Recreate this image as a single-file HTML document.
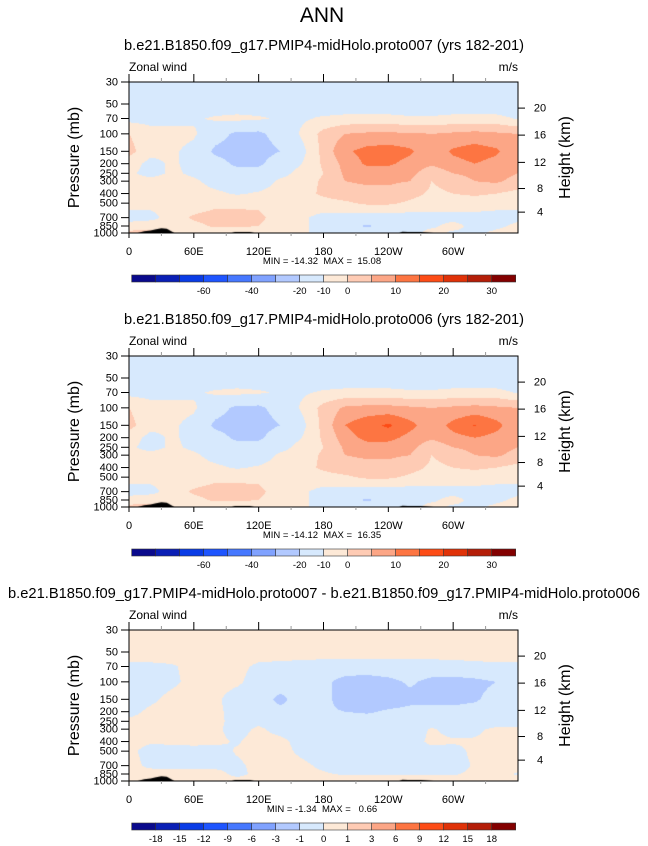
<!DOCTYPE html>
<html><head><meta charset="utf-8">
<style>
html,body{margin:0;padding:0;background:#fff;}
#wrap{position:relative;width:648px;height:846px;overflow:hidden;font-family:"Liberation Sans",Arial,sans-serif;}
canvas{position:absolute;}
svg{position:absolute;left:0;top:0;}
</style></head>
<body>
<div id="wrap">
<canvas id="c1" width="389" height="151" style="left:129px;top:82px"></canvas>
<canvas id="c2" width="389" height="151" style="left:129px;top:356px"></canvas>
<canvas id="c3" width="389" height="151" style="left:129px;top:630px"></canvas>
<svg id="ov" width="648" height="846"></svg>
</div>
<script>
// ---------- data ----------
const lons = [0,20,40,60,80,100,120,140,160,180,200,220,240,260,280,300,320,340,360];
const levels = [30,50,70,100,150,200,250,300,400,500,700,850,1000];
const field1 = [
[-3,-3,-3,-3,-3,-3,-3,-3,-3,-3,-3,-3,-3,-3,-3,-3,-3,-3,-3],
[-2.5,-2.5,-2.5,-2.5,-2.5,-2.5,-2.5,-2.5,-0.5,-2.5,-2.5,-2.5,-2.5,-2.5,-2.5,-2.5,-2.5,-2.5,-2.5],
[-1,-1,-1,-0.5,0.5,1,0.5,-0.5,-0.5,0.5,1,1,1,0.5,0.5,1,1,1,-0.3],
[3,1,1,0.5,-3,-6,-6,-3,0.5,4,6,6.5,6.5,6.5,6,6.5,7,6.5,6],
[4,1,0.5,-1,-6,-7,-7,-5,-1,4,8.5,10,10.5,9.5,7,9.5,10.5,9.5,6.5],
[1.5,-1,0.5,-1,-3,-6,-6,-2,0,3.5,7,9.5,9.5,8,6.5,8,9,8,6.5],
[0.5,-1,0.5,-0.5,-2,-3,-3,-1,1,3,6.5,7.5,7.5,7,4,6,7,7,6],
[1,1,1,0.5,-1,-1.5,-1.5,0.5,1.5,3.5,6,6.5,6.5,6,3,4,6,6.5,5],
[1,1,1,1,0.5,-0.3,0.3,1,2,3.5,4.5,5,5,4,2.5,3,3.5,3,2],
[1,1,1,1,2,2,2,1,1.5,2,2.5,3.5,3.5,2.5,1.5,1.5,1.5,1,0.5],
[-1,-1,1.5,3.5,4.5,4.5,4,1,0.5,-1,-1,-1.5,-1.5,-1.5,-1,-1,-1,-1,-0.5],
[1,2,1,2,3.5,3.5,3,1,0.5,-1,-4,-5.5,-4,-1,-0.5,1,-1,-0.5,0.5],
[4,4,0.5,1,1,1,0.5,0.5,0.5,-1,-2,-2,-2,-1,1,-0.5,-0.5,0.5,1]];
const field2 = [
[-3,-3,-3,-3,-3,-3,-3,-3,-3,-3,-3,-3,-3,-3,-3,-3,-3,-3,-3],
[-2.5,-2.5,-2.5,-2.5,-2.5,-2.5,-2.5,-2.5,-2.5,-2.5,-2.5,-2.5,-2.5,-2.5,-2.5,-2.5,-2.5,-2.5,-2.5],
[-1,-1,-1,-0.5,0.5,1,0.5,-0.5,-0.5,0.5,1,1,1,0.5,0.5,1,1,1,-0.3],
[3,1,1,0.5,-3,-6,-6,-3,0.5,4,6.5,7,7,6.5,6,6.5,7,6.5,6],
[4,1,0.5,-1,-6,-7,-7,-5,-1,4,9,11,12.5,10,7,10,12.2,10,6.5],
[1.5,-1,0.5,-1,-3,-6,-6,-2,0,3.5,7.5,10,10,8,6.5,8,9,8,6.5],
[0.5,-1,0.5,-0.5,-2,-3,-3,-1,1,3,6.5,7.5,7.5,7,4,6,7,7,6],
[1,1,1,0.5,-1,-1.5,-1.5,0.5,1.5,3.5,6,6.5,6.5,6,3,4,6,6.5,5],
[1,1,1,1,0.5,-0.3,0.3,1,2,3.5,4.5,5,5,4,2.5,3,3.5,3,2],
[1,1,1,1,2,2,2,1,1.5,2,2.5,3.5,3.5,2.5,1.5,1.5,1.5,1,0.5],
[-1,-1,1.5,3.5,4.5,4.5,4,1,0.5,-1,-1,-1.5,-1.5,-1.5,-1,-1,-1,-1,-0.5],
[1,2,1,2,3.5,3.5,3,1,0.5,-1,-4,-5.5,-4,-1,-0.5,1,-1,-0.5,0.5],
[4,4,0.5,1,1,1,0.5,0.5,0.5,-1,-2,-2,-2,-1,1,-0.5,-0.5,0.5,1]];
const field3 = [
[0.5,0.5,0.5,0.5,0.5,0.5,0.5,0.5,0.5,0.5,0.5,0.5,0.5,0.5,0.5,0.5,0.5,0.5,0.5],
[0.5,0.5,0.5,0.5,0.5,0.5,0.5,0.5,0.5,0.5,0.5,0.5,0.5,0.5,0.5,0.5,0.5,0.5,0.5],
[-0.2,-0.2,-0.1,0.3,0.3,0.3,-0.2,-0.3,-0.4,-0.5,-0.5,-0.5,-0.5,-0.5,-0.5,-0.4,-0.3,-0.2,-0.2],
[-0.5,-0.5,-0.2,0.3,0.4,0.2,-0.5,-0.6,-0.7,-0.8,-1.3,-1.4,-1.2,-0.9,-1.2,-1.3,-1.2,-1.0,-0.6],
[-0.5,-0.2,0.3,0.5,0.2,-0.5,-0.6,-1.2,-0.6,-0.8,-1.3,-1.4,-1.4,-1.2,-1.2,-1.2,-1.1,-0.7,-0.6],
[-0.3,0.2,0.4,0.5,0.3,-0.5,-0.6,-0.8,-0.8,-0.9,-1.0,-1.1,-0.9,-0.8,-0.8,-0.8,-0.7,-0.6,-0.5],
[0.2,0.3,0.4,0.5,0.3,-0.4,-0.3,-0.6,-0.6,-0.6,-0.6,-0.6,-0.6,-0.6,-0.6,-0.6,-0.6,-0.6,-0.5],
[0.3,0.3,0.4,0.5,0.2,-0.4,0.2,-0.4,-0.6,-0.6,-0.6,-0.6,-0.5,-0.5,0.1,-0.3,-0.2,0.2,0.2],
[0.3,0.1,0.2,0.3,0.2,-0.1,0.4,0.3,-0.4,-0.6,-0.6,-0.6,-0.5,-0.4,0.2,0.1,0.1,0.3,0.3],
[0.2,-0.3,-0.4,-0.4,-0.4,0.1,0.4,0.3,-0.2,-0.5,-0.5,-0.5,-0.5,-0.5,-0.3,-0.3,0.2,0.3,0.4],
[0.3,-0.2,-0.3,-0.3,-0.3,-0.2,0.3,0.4,0.2,-0.2,-0.4,-0.4,-0.4,-0.4,-0.4,-0.4,0.1,0.3,0.4],
[0.2,0.4,0.4,0.4,0.4,-0.3,0.3,0.3,0.3,0.1,-0.1,-0.1,-0.1,-0.1,-0.1,-0.1,0.2,0.3,-0.1],
[0.4,0.4,0.4,0.4,0.4,0.4,0.4,0.4,0.4,0.4,0.4,0.4,0.4,0.4,0.4,0.4,0.4,0.4,0.4]];
const bounds12 = [-60,-50,-40,-30,-20,-10,-5,0,3,6,9,12,20,25,30];
const bounds3 = [-18,-15,-12,-9,-6,-3,-1,0,1,3,6,9,12,15,18];
const cbLabels12 = ["","","-60","","-40","","-20","-10","0","","10","","20","","30"];
const cbLabels3 = ["-18","-15","-12","-9","-6","-3","-1","0","1","3","6","9","12","15","18"];
const colors = ["#0a0a8c","#0a1fb5","#0a3ce6","#1e55ff","#4678ff","#80a2ff","#b2c9ff","#d7e9fd","#fde9d7","#fecbb4","#fca686","#fd7542","#fd4c16","#e03208","#b41e08","#830000"];
const terrainLons = [8,14,20,25,30,35,42,95,98,112,116,250,253,258,270,282];
const terrainP = [1000,960,945,915,895,905,1000,1000,975,975,1000,1000,970,975,975,1000];
const minmax = ["MIN = -14.32  MAX =  15.08","MIN = -14.12  MAX =  16.35","MIN = -1.34  MAX =   0.66"];
const titles = ["b.e21.B1850.f09_g17.PMIP4-midHolo.proto007 (yrs 182-201)","b.e21.B1850.f09_g17.PMIP4-midHolo.proto006 (yrs 182-201)","b.e21.B1850.f09_g17.PMIP4-midHolo.proto007 - b.e21.B1850.f09_g17.PMIP4-midHolo.proto006"];
const pTicks = [30,50,70,100,150,200,250,300,400,500,700,850,1000];
const hTicks = [4,8,12,16,20];
const hTickP = [616,356,194,103,55];
const lonTicks = [0,60,120,180,240,300];
const lonLabels = ["0","60E","120E","180","120W","60W"];

// ---------- axes ----------
const W=389,H=151,L=129;
const tops=[82,356,630];
function xOf(lon){return lon/360*W;}
function yOf(p){return Math.log(p/30)/Math.log(1000/30)*H;}
function classOf(v,b){let k=0;while(k<b.length&&v>=b[k])k++;return k;}
function sample(f,lon,p){
  let fi=lon/20, i=Math.min(Math.floor(fi),lons.length-2), tx=fi-i;
  let lp=Math.log(p), j=0;
  while(j<levels.length-2&&Math.log(levels[j+1])<lp)j++;
  let ty=(lp-Math.log(levels[j]))/(Math.log(levels[j+1])-Math.log(levels[j]));
  ty=Math.max(0,Math.min(1,ty));
  let a=f[j][i]*(1-tx)+f[j][i+1]*tx, b=f[j+1][i]*(1-tx)+f[j+1][i+1]*tx;
  return a*(1-ty)+b*ty;
}
function terrain(ctx,a,b){
  ctx.beginPath();ctx.moveTo(xOf(terrainLons[a]),H);
  for(let k=a;k<=b;k++)ctx.lineTo(xOf(terrainLons[k]),yOf(terrainP[k]));
  ctx.lineTo(xOf(terrainLons[b]),H);ctx.closePath();ctx.fill();
}
function draw(id,f,b){
  const ctx=document.getElementById(id).getContext('2d');
  for(let py=0;py<H;py++){
    const p=30*Math.pow(1000/30,(py+0.5)/H);
    for(let px=0;px<W;px++){
      const lon=(px+0.5)/W*360;
      ctx.fillStyle=colors[classOf(sample(f,lon,p),b)];
      ctx.fillRect(px,py,1,1);
    }
  }
  ctx.fillStyle="#000";
  terrain(ctx,0,6);terrain(ctx,7,10);terrain(ctx,11,15);
}
draw('c1',field1,bounds12);draw('c2',field2,bounds12);draw('c3',field3,bounds3);

const NS="http://www.w3.org/2000/svg";
const ov=document.getElementById('ov');
function el(tag,attrs,parent,text){const e=document.createElementNS(NS,tag);for(const k in attrs)e.setAttribute(k,attrs[k]);if(text!==undefined)e.textContent=text;(parent||ov).appendChild(e);return e;}
let t=el('text',{x:322,y:22,'font-size':21,'text-anchor':'middle'},ov,"ANN");


for(let n=0;n<3;n++){
  const T=tops[n];
  const g=el('g',{},ov);
  
  
  let st=el('text',{x:324,y:T-32,'font-size':14.6,'text-anchor':'middle'},g,titles[n]);
  if(n===2){st.setAttribute('textLength',632);st.setAttribute('lengthAdjust','spacingAndGlyphs');}
  else{st.setAttribute('textLength',400);st.setAttribute('lengthAdjust','spacingAndGlyphs');}
  
  
  let zw=el('text',{x:L,y:T-11,'font-size':12},g,"Zonal wind");
  
  
  let un=el('text',{x:L+W,y:T-11,'font-size':12,'text-anchor':'end'},g,"m/s");
  
  
  let fr=el('rect',{x:L,y:T,width:W,height:H,fill:'none',stroke:'#000','stroke-width':1},g);
  
  
  for(let lon=0;lon<360;lon+=30){
    const x=L+xOf(lon), major=lon%60===0;
    el('line',{x1:x,x2:x,y1:T,y2:T-(major?8:4),stroke:major?'#000':'#999','stroke-width':1},g);
    el('line',{x1:x,x2:x,y1:T+H,y2:T+H+(major?5:3),stroke:major?'#000':'#999','stroke-width':1},g);
  }
  lonTicks.forEach((lon,k)=>{
    let tl=el('text',{x:L+xOf(lon),y:T+H+22,'font-size':11,'text-anchor':'middle'},g,lonLabels[k]);
    
    
  });
  pTicks.forEach(p=>{
    const y=T+yOf(p);
    el('line',{x1:L-8,x2:L,y1:y,y2:y,stroke:'#000'},g);
    let pl=el('text',{x:L-11,y:y+3.5,'font-size':11,'text-anchor':'end'},g,String(p));
    
    
  });
  hTicks.forEach((h,k)=>{
    const y=T+yOf(hTickP[k]);
    el('line',{x1:L+W,x2:L+W+7,y1:y,y2:y,stroke:'#000'},g);
    let hl=el('text',{x:L+W+22,y:y+3.5,'font-size':11,'text-anchor':'middle'},g,String(h));
    
    
  });
  let yt=el('text',{x:0,y:0,'font-size':16,'text-anchor':'middle',transform:`translate(79,${T+H/2}) rotate(-90)`},g,"Pressure (mb)");
  
  
  let ht=el('text',{x:0,y:0,'font-size':16,'text-anchor':'middle',transform:`translate(570,${T+H/2}) rotate(-90)`},g,"Height (km)");
  
  
  let mm=el('text',{x:322,y:T+H+31,'font-size':9.5,'text-anchor':'middle',style:'white-space:pre'},g,minmax[n]);
  
  
  // colorbar
  const cb=el('g',{},g);
  
  
  const cy=T+193, cx=131.7, bw=24;
  colors.forEach((c,k)=>{
    let r=el('rect',{x:cx+k*bw,y:cy,width:bw,height:7,fill:c,stroke:'#333','stroke-width':0.6},cb);
    
    
  });
  const labs=n===2?cbLabels3:cbLabels12;
  labs.forEach((s,k)=>{
    if(!s)return;
    let cl=el('text',{x:cx+(k+1)*bw,y:cy+19,'font-size':9.5,'text-anchor':'middle'},cb,s);
    
    
  });
}
</script>
</body></html>
